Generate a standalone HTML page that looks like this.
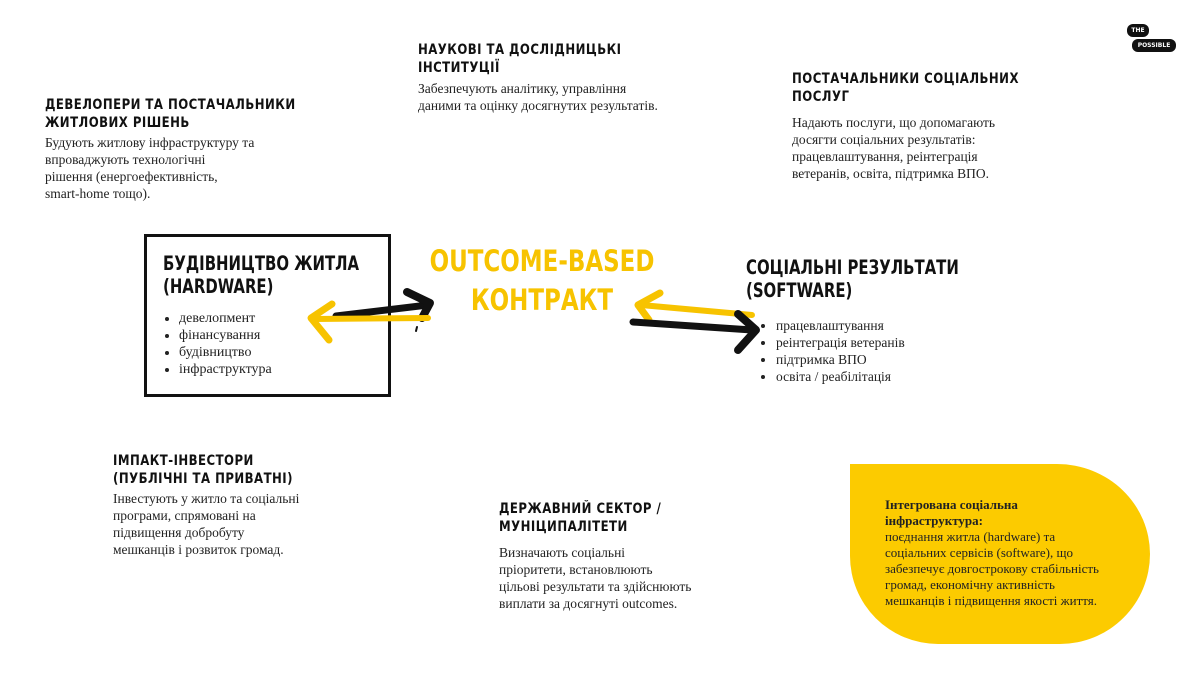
<!DOCTYPE html>
<html><head><meta charset="utf-8"><style>
body{margin:0;width:1200px;height:675px;background:#fff;position:relative;overflow:hidden;font-family:"Liberation Serif","DejaVu Serif",serif;color:#222}
.h{position:absolute;font-family:"DejaVu Sans Condensed","Liberation Sans",sans-serif;font-weight:bold;font-size:14px;line-height:18px;text-transform:uppercase;color:#111;letter-spacing:0.5px;transform-origin:0 0;transform:scaleX(0.93)}
.t{position:absolute;font-size:13.5px;line-height:17px;color:#222}
.box{position:absolute;left:144px;top:234px;width:241px;height:157px;border:3px solid #111}
.bh{position:absolute;font-family:"DejaVu Sans Condensed","Liberation Sans",sans-serif;font-weight:bold;font-size:19.5px;line-height:23px;color:#111;transform-origin:0 0;transform:scaleX(0.85)}
ul{position:absolute;margin:0;padding:0 0 0 16px;font-size:14px;line-height:17px;list-style:disc}
.y{position:absolute;font-family:"DejaVu Sans Condensed","Liberation Sans",sans-serif;font-weight:bold;color:#f7c300;font-size:29px;line-height:39px;text-align:center;width:300px;left:392px;top:242px;transform:scaleX(0.88)}
.blob{position:absolute;left:850px;top:464px;width:300px;height:180px;background:#fccb00;border-radius:0 95px 92px 90px/0 92px 92px 90px}
</style></head><body>
<div style="position:absolute;left:1127px;top:24px;width:22px;height:13px;background:#111;border-radius:6px;color:#fff;font:bold 6px 'DejaVu Sans';text-align:center;line-height:13px">THE</div>
<div style="position:absolute;left:1132px;top:39px;width:44px;height:13px;background:#111;border-radius:6px;color:#fff;font:bold 6px 'DejaVu Sans';text-align:center;line-height:13px">POSSIBLE</div>

<div class="h" style="left:418px;top:41px">Наукові та дослідницькі<br>інституції</div>
<div class="t" style="left:418px;top:80px">Забезпечують аналітику, управління<br>даними та оцінку досягнутих результатів.</div>

<div class="h" style="left:45px;top:96px">Девелопери та постачальники<br>житлових рішень</div>
<div class="t" style="left:45px;top:134px">Будують житлову інфраструктуру та<br>впроваджують технологічні<br>рішення (енергоефективність,<br>smart-home тощо).</div>

<div class="h" style="left:792px;top:70px">Постачальники соціальних<br>послуг</div>
<div class="t" style="left:792px;top:114px">Надають послуги, що допомагають<br>досягти соціальних результатів:<br>працевлаштування, реінтеграція<br>ветеранів, освіта, підтримка ВПО.</div>

<div class="box"></div>
<div class="bh" style="left:163px;top:252px">БУДІВНИЦТВО ЖИТЛА<br>(HARDWARE)</div>
<ul style="left:163px;top:310px"><li>девелопмент</li><li>фінансування</li><li>будівництво</li><li>інфраструктура</li></ul>

<div class="y">OUTCOME-BASED<br>КОНТРАКТ</div>

<div class="bh" style="left:746px;top:256px">СОЦІАЛЬНІ РЕЗУЛЬТАТИ<br>(SOFTWARE)</div>
<ul style="left:760px;top:317px;font-size:13.5px"><li>працевлаштування</li><li>реінтеграція ветеранів</li><li>підтримка ВПО</li><li>освіта / реабілітація</li></ul>

<svg style="position:absolute;left:0;top:0" width="1200" height="675">
<g fill="none" stroke-linecap="round" stroke-linejoin="round">
<path d="M336 316 L428 305" stroke="#111" stroke-width="7"/>
<path d="M407 292 L430 303 L422 318" stroke="#111" stroke-width="8"/>
<path d="M428 318 L314 319" stroke="#f7c300" stroke-width="6"/>
<path d="M332 304 L311 318 L329 340" stroke="#f7c300" stroke-width="7"/>
<path d="M752 315 L641 305" stroke="#f7c300" stroke-width="6"/>
<path d="M660 293 L638 305 L649 320" stroke="#f7c300" stroke-width="7"/>
<path d="M633 322 L752 330" stroke="#111" stroke-width="7"/>
<path d="M738 314 L756 330 L738 350" stroke="#111" stroke-width="8"/>
<path d="M417 327 L416 331" stroke="#111" stroke-width="2"/>
</g></svg>

<div class="h" style="left:113px;top:452px">Імпакт-інвестори<br>(публічні та приватні)</div>
<div class="t" style="left:113px;top:490px">Інвестують у житло та соціальні<br>програми, спрямовані на<br>підвищення добробуту<br>мешканців і розвиток громад.</div>

<div class="h" style="left:499px;top:500px">Державний сектор /<br>муніципалітети</div>
<div class="t" style="left:499px;top:544px">Визначають соціальні<br>пріоритети, встановлюють<br>цільові результати та здійснюють<br>виплати за досягнуті outcomes.</div>

<div class="blob"></div>
<div class="t" style="left:885px;top:497px;font-size:13px;line-height:16px;color:#222"><b>Інтегрована соціальна<br>інфраструктура:</b><br>поєднання житла (hardware) та<br>соціальних сервісів (software), що<br>забезпечує довгострокову стабільність<br>громад, економічну активність<br>мешканців і підвищення якості життя.</div>
</body></html>
